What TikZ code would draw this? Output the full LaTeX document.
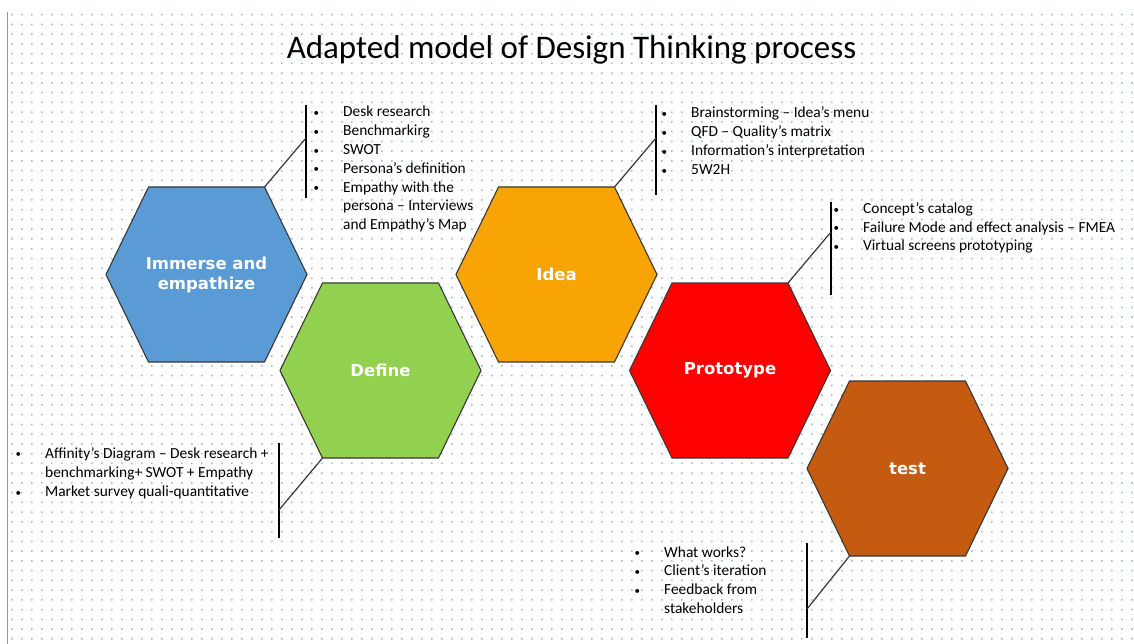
\documentclass[tikz,border=0pt]{standalone}
\usepackage{fontspec}
\setmainfont{Carlito}
\newfontfamily\hexfont{DejaVu Sans}
\definecolor{dotc}{RGB}{160,182,206}
\definecolor{framec}{RGB}{150,150,150}
\definecolor{edgec}{RGB}{55,55,55}
\definecolor{cblue}{RGB}{91,155,213}
\definecolor{cgreen}{RGB}{146,208,80}
\definecolor{corange}{RGB}{247,164,4}
\definecolor{cred}{RGB}{255,0,0}
\definecolor{cbrown}{RGB}{197,90,17}
\tikzset{
  hexline/.style={draw=edgec, line width=1.1pt},
  hexlabel/.style={text=white, font=\hexfont\bfseries\fontsize{16.5}{20}\selectfont, align=center, inner sep=0pt},
  bar/.style={draw=black, line width=2.2pt},
  link/.style={draw=edgec, line width=1.2pt},
  li/.style={anchor=base west, inner sep=0pt, font=\fontsize{15.4}{18}\selectfont, text=black}
}
% flat-topped hexagon: name, centre x, centre y, fill, label
\newcommand\hexa[5]{%
  \coordinate (#1-l)  at (#2-100.5,#3);
  \coordinate (#1-tl) at (#2-58,#3-87.5);
  \coordinate (#1-tr) at (#2+58,#3-87.5);
  \coordinate (#1-r)  at (#2+100.5,#3);
  \coordinate (#1-br) at (#2+58,#3+87.5);
  \coordinate (#1-bl) at (#2-58,#3+87.5);
  \filldraw[hexline, fill=#4] (#1-l) -- (#1-tl) -- (#1-tr) -- (#1-r) -- (#1-br) -- (#1-bl) -- cycle;
  \node[hexlabel] (#1) at (#2,#3) {#5};
}
\newcommand\bul{\makebox[0pt][r]{\raisebox{0.5pt}{\fontsize{11}{11}\selectfont•}\hspace{24pt}}}
\begin{document}
\begin{tikzpicture}[x=1pt,y=-1pt]
\useasboundingbox (0,0) rectangle (1134,644);
\fill[white] (0,0) rectangle (1134,644);
% dotted page background
\fill[dotc] \foreach \i in {0,...,112} {\foreach \j in {0,...,64} {(11+10*\i,14+9.75*\j) rectangle ++(1.5,1.5)}};
\draw[framec, line width=1pt] (7,12) -- (7,644);

% title
\node[anchor=base, inner sep=0pt, font=\fontsize{33}{40}\selectfont] (title) at (571.5,59) {Adapted model of Design Thinking process};

% stages
\hexa{imm}{206.5}{274.5}{cblue}{Immerse and\\empathize}
\hexa{def}{380.5}{370.5}{cgreen}{Define}
\hexa{idea}{556.5}{274.5}{corange}{Idea}
\hexa{proto}{730}{370.5}{cred}{Prototype}
\hexa{test}{907.5}{468.5}{cbrown}{test}

% brackets with their leader lines
\coordinate (b1-top) at (306,105); \coordinate (b1-bot) at (306,198); \coordinate (b1-j) at (306,138);
\coordinate (b2-top) at (656,105); \coordinate (b2-bot) at (656,195); \coordinate (b2-j) at (656,138);
\coordinate (b3-top) at (831,202); \coordinate (b3-bot) at (831,295); \coordinate (b3-j) at (831,232);
\coordinate (b4-top) at (279,443); \coordinate (b4-bot) at (279,538); \coordinate (b4-j) at (279,510);
\coordinate (b5-top) at (807,543); \coordinate (b5-bot) at (807,638); \coordinate (b5-j) at (807,609);
\foreach \b in {b1,b2,b3,b4,b5} \draw[bar] (\b-top) -- (\b-bot);
\draw[link] (imm-tr) -- (b1-j);
\draw[link] (idea-tr) -- (b2-j);
\draw[link] (proto-tr) -- (b3-j);
\draw[link] (def-bl) -- (b4-j);
\draw[link] (test-bl) -- (b5-j);

% Immerse and empathize
\node[li] (t1a) at (343,117)   {\bul Desk research};
\node[li] (t1b) at (343,135.8) {\bul Benchmarkirg};
\node[li] (t1c) at (343,154.6) {\bul SWOT};
\node[li] (t1d) at (343,173.4) {\bul Persona’s definition};
\node[li] (t1e) at (343,192.2) {\bul Empathy with the};
\node[li] (t1f) at (343,211)   {persona – Interviews};
\node[li] (t1g) at (343,229.8) {and Empathy’s Map};

% Idea
\node[li] (t2a) at (691,118) {\bul Brainstorming – Idea’s menu};
\node[li] (t2b) at (691,137) {\bul QFD – Quality’s matrix};
\node[li] (t2c) at (691,156) {\bul Information’s interpretation};
\node[li] (t2d) at (691,175) {\bul 5W2H};

% Prototype
\node[li] (t3a) at (863,214)   {\bul Concept’s catalog};
\node[li] (t3b) at (863,232.5) {\bul Failure Mode and effect analysis – FMEA};
\node[li] (t3c) at (863,251)   {\bul Virtual screens prototyping};

% Define
\node[li] (t4a) at (45,458)   {\bul Affinity’s Diagram – Desk research +};
\node[li] (t4b) at (45,477.3) {benchmarking+ SWOT + Empathy};
\node[li] (t4c) at (45,496.6) {\bul Market survey quali-quantitative};

% test
\node[li] (t5a) at (664,557)   {\bul What works?};
\node[li] (t5b) at (664,575.8) {\bul Client’s iteration};
\node[li] (t5c) at (664,594.6) {\bul Feedback from};
\node[li] (t5d) at (664,613.4) {stakeholders};
\end{tikzpicture}
\end{document}
